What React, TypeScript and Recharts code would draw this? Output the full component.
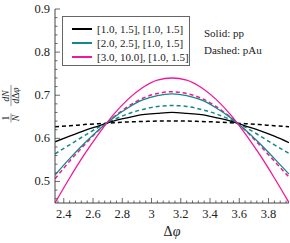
import { LineChart, Line, XAxis, YAxis, Legend } from 'recharts'

// Δφ sample points (pi - 0.8 ... pi + 0.8)
const dphi = [2.34, 2.44, 2.54, 2.64, 2.74, 2.84, 2.94, 3.04, 3.14, 3.24, 3.34, 3.44, 3.54, 3.64, 3.74, 3.84, 3.94]

// solid = pp, dashed = pAu
const ppLow = [0.592, 0.605, 0.618, 0.629, 0.640, 0.648, 0.655, 0.658, 0.660, 0.658, 0.655, 0.648, 0.640, 0.629, 0.618, 0.605, 0.590]
const pAuLow = [0.627, 0.629, 0.632, 0.634, 0.636, 0.638, 0.639, 0.640, 0.640, 0.640, 0.639, 0.638, 0.636, 0.634, 0.632, 0.629, 0.627]
const ppMid = [0.515, 0.553, 0.588, 0.620, 0.648, 0.671, 0.689, 0.699, 0.703, 0.699, 0.689, 0.671, 0.648, 0.620, 0.588, 0.553, 0.517]
const pAuMid = [0.564, 0.585, 0.606, 0.626, 0.643, 0.657, 0.667, 0.674, 0.676, 0.674, 0.667, 0.657, 0.643, 0.626, 0.606, 0.585, 0.565]
const ppHigh = [0.450, 0.508, 0.562, 0.611, 0.655, 0.691, 0.718, 0.735, 0.740, 0.735, 0.718, 0.691, 0.655, 0.611, 0.562, 0.508, 0.451]
const pAuHigh = [0.506, 0.547, 0.584, 0.619, 0.649, 0.674, 0.693, 0.704, 0.708, 0.704, 0.693, 0.674, 0.649, 0.619, 0.584, 0.547, 0.510]

const binLabels = ['[1.0, 1.5], [1.0, 1.5]', '[2.0, 2.5], [1.0, 1.5]', '[3.0, 10.0], [1.0, 1.5]']

const xTicks = Array.from({ length: 40 }, (_, i) => +(2.36 + 0.04 * i).toFixed(2))
const yTicks = Array.from({ length: 23 }, (_, i) => +(0.46 + 0.02 * i).toFixed(2))

const data = dphi.map((x, i) => ({
  x,
  ppLow: ppLow[i], pAuLow: pAuLow[i],
  ppMid: ppMid[i], pAuMid: pAuMid[i],
  ppHigh: ppHigh[i], pAuHigh: pAuHigh[i],
}))

const FONT = '"Liberation Serif", serif'
const AXIS = '#444'
const BLACK = '#000'
const TEAL = '#14878a'
const PINK = '#f0189a'
const binColors = [BLACK, TEAL, PINK]

const isMajor = (v: number, step: number) => Math.abs(v / step - Math.round(v / step)) < 1e-6

const XTick = (props: any) => {
  const { x, y, payload, top } = props
  const v = payload.value
  const major = isMajor(v, 0.2)
  const len = major ? 5 : 2.5
  const dir = top ? 1 : -1
  return (
    <g>
      <line x1={x} x2={x} y1={y} y2={y + dir * len} stroke={AXIS} strokeWidth={0.8} />
      {!top && major && (
        <text x={x} y={y + 15} textAnchor="middle" fontSize={12.5} fontFamily={FONT} fill="#222">{String(v)}</text>
      )}
    </g>
  )
}

const YTick = (props: any) => {
  const { x, y, payload, right } = props
  const v = payload.value
  const major = isMajor(v, 0.1)
  const len = major ? 5 : 2.5
  const dir = right ? -1 : 1
  return (
    <g>
      <line x1={x} x2={x + dir * len} y1={y} y2={y} stroke={AXIS} strokeWidth={0.8} />
      {!right && major && (
        <text x={x - 5} y={y + 4} textAnchor="end" fontSize={12.5} fontFamily={FONT} fill="#222">{String(v)}</text>
      )}
    </g>
  )
}

const YTitle = ({ viewBox }: any) => {
  const cx = viewBox.x + 11
  const cy = viewBox.y + viewBox.height / 2 - 3
  const fs = 9.5
  return (
    <g transform={`translate(${cx},${cy}) rotate(-90)`} fontFamily={FONT} fill="#222" fontSize={fs}>
      <text x={-15} y={-2.5} textAnchor="middle">1</text>
      <line x1={-19.5} x2={-10.5} y1={0} y2={0} stroke="#222" strokeWidth={0.5} />
      <text x={-15} y={8} textAnchor="middle" fontStyle="italic">N</text>
      <text x={7} y={-2.5} textAnchor="middle" fontStyle="italic">dN</text>
      <line x1={-3} x2={18} y1={0} y2={0} stroke="#222" strokeWidth={0.5} />
      <text x={7.5} y={8} textAnchor="middle"><tspan fontStyle="italic">d</tspan>Δ<tspan fontStyle="italic">φ</tspan></text>
    </g>
  )
}

const XTitle = ({ viewBox }: any) => (
  <text x={viewBox.x + viewBox.width / 2} y={viewBox.y + 33} textAnchor="middle" fontSize={14} fontFamily={FONT} fill="#222">
    Δ<tspan fontStyle="italic">φ</tspan>
  </text>
)

const LegendBox = ({ payload }: any) => (
  <div style={{ width: 128, height: 50, border: '1px solid #666', background: '#fff', padding: '5px 0 0 9px', boxSizing: 'border-box', fontFamily: FONT, fontSize: 11, color: '#222' }}>
    {(payload || []).filter((p: any) => binLabels.includes(p.value)).map((p: any) => (
      <div key={p.value} style={{ display: 'flex', alignItems: 'center', height: 14 }}>
        <span style={{ display: 'inline-block', width: 20, height: 0, borderTop: `2px solid ${binColors[binLabels.indexOf(p.value)]}`, marginRight: 5 }} />
        <span>{p.value}</span>
      </div>
    ))}
  </div>
)

export default function App() {
  return (
    <div style={{ position: 'absolute', left: 0, top: 0, width: 290, height: 243, background: '#fff' }}>
      <LineChart width={290} height={243} data={data} margin={{ top: 9, right: 1, bottom: 0, left: 0 }}>
        <XAxis
          dataKey="x" type="number" domain={[2.34, 3.94]} allowDataOverflow
          ticks={xTicks} interval={0} tickSize={0} tickMargin={0} height={40}
          stroke={AXIS} tick={<XTick />} tickLine={false}
          label={{ content: <XTitle /> } as any}
        />
        <XAxis
          xAxisId="top" orientation="top" dataKey="x" type="number" domain={[2.34, 3.94]} allowDataOverflow
          ticks={xTicks} interval={0} tickSize={0} tickMargin={0} height={0}
          stroke={AXIS} tick={<XTick top />} tickLine={false}
        />
        <YAxis
          type="number" domain={[0.45, 0.9]} allowDataOverflow
          ticks={yTicks} interval={0} tickSize={0} tickMargin={0} width={55}
          stroke={AXIS} tick={<YTick />} tickLine={false}
          label={{ content: <YTitle /> } as any}
        />
        <YAxis
          yAxisId="right" orientation="right" type="number" domain={[0.45, 0.9]} allowDataOverflow
          ticks={yTicks} interval={0} tickSize={0} tickMargin={0} width={0}
          stroke={AXIS} tick={<YTick right />} tickLine={false}
        />
        <Legend
          layout="vertical" align="center" verticalAlign="middle"
          wrapperStyle={{ left: 62, top: 16, width: 128, height: 50 }}
          content={<LegendBox />}
        />
        <Line dataKey="pAuLow" stroke={BLACK} strokeWidth={1.5} strokeDasharray="4 3" dot={false} type="monotone" legendType="none" isAnimationActive={false} />
        <Line dataKey="pAuMid" stroke={TEAL} strokeWidth={1.5} strokeDasharray="4 3" dot={false} type="monotone" legendType="none" isAnimationActive={false} />
        <Line dataKey="pAuHigh" stroke={PINK} strokeWidth={1.5} strokeDasharray="4 3" dot={false} type="monotone" legendType="none" isAnimationActive={false} />
        <Line dataKey="ppLow" name={binLabels[0]} stroke={BLACK} strokeWidth={1.3} dot={false} type="monotone" isAnimationActive={false} />
        <Line dataKey="ppMid" name={binLabels[1]} stroke={TEAL} strokeWidth={1.3} dot={false} type="monotone" isAnimationActive={false} />
        <Line dataKey="ppHigh" name={binLabels[2]} stroke={PINK} strokeWidth={1.3} dot={false} type="monotone" isAnimationActive={false} />
      </LineChart>
      <div style={{ position: 'absolute', left: 204, top: 25, fontFamily: FONT, fontSize: 11, color: '#222', lineHeight: '17px' }}>
        <div>Solid: pp</div>
        <div>Dashed: pAu</div>
      </div>
    </div>
  )
}
